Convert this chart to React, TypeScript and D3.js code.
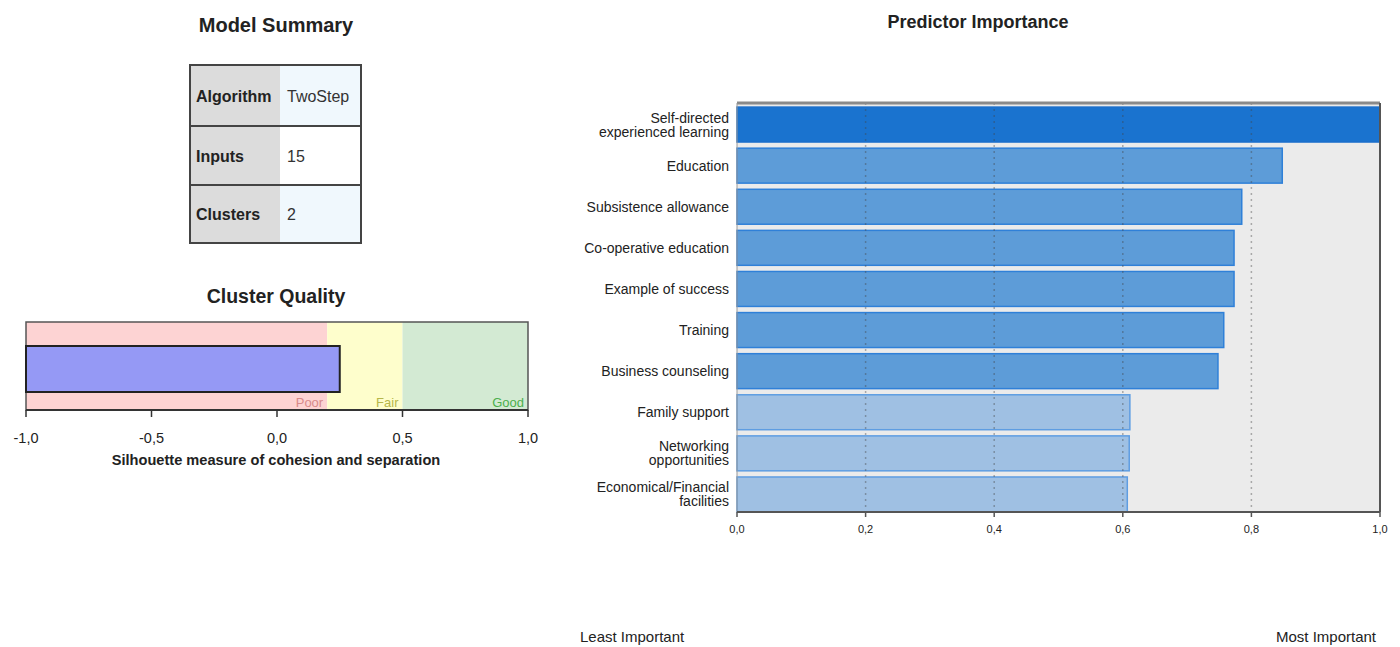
import React from "react";
import * as d3 from "d3";

const summaryLabels = ["Algorithm", "Inputs", "Clusters"];
const summaryValues = ["TwoStep", "15", "2"];

const qualityZones = ["Poor", "Fair", "Good"];
const zoneBounds = [-1.0, 0.2, 0.5, 1.0];
const silhouette = 0.25;
const qualityTicks = [-1.0, -0.5, 0.0, 0.5, 1.0];

const predictors = [
  "Self-directed\nexperienced learning",
  "Education",
  "Subsistence allowance",
  "Co-operative education",
  "Example of success",
  "Training",
  "Business counseling",
  "Family support",
  "Networking\nopportunities",
  "Economical/Financial\nfacilities",
];
const importance = [1.0, 0.848, 0.785, 0.773, 0.773, 0.757, 0.748, 0.611, 0.61, 0.607];
const importanceTicks = [0, 0.2, 0.4, 0.6, 0.8, 1.0];

const FONT = "'Liberation Sans', Arial, sans-serif";
const fmt = (v: number) => v.toFixed(1).replace(".", ",");

export default function App() {
  // Cluster quality scales
  const qx = d3.scaleLinear().domain([-1, 1]).range([26, 528]);
  const qTop = 322;
  const qBot = 410;
  const zoneFill = ["#fdd3d3", "#fefecc", "#d3ead3"];
  const zoneText = ["#d88a8a", "#b6b64a", "#4caf4c"];

  // Predictor importance scales
  const px = d3.scaleLinear().domain([0, 1]).range([737, 1380]);
  const py = d3.scaleBand<string>().domain(predictors).range([104, 515]).paddingInner(0.15).paddingOuter(0.075);
  const pTop = 103;
  const pBot = 512;
  const barFill = (i: number) => (i === 0 ? "#1a73cf" : i < 7 ? "#5d9cd8" : "#9fc0e3");
  const barStroke = (i: number) => (i === 0 ? "#1a6fcb" : i < 7 ? "#2f80d8" : "#5e9de2");

  const rowY = [65, 126, 185, 243];

  return (
    <div>
      <style>{"body{margin:0}"}</style>
      <svg width={1400} height={647} style={{ display: "block", fontFamily: FONT }}>
        <rect width={1400} height={647} fill="#ffffff" />

        {/* Model Summary */}
        <text x={276} y={32} textAnchor="middle" fontSize={20} fontWeight="bold" fill="#222">
          Model Summary
        </text>
        {summaryLabels.map((lab, i) => (
          <g key={lab}>
            <rect x={190} y={rowY[i]} width={90} height={rowY[i + 1] - rowY[i]} fill="#dcdcdc" />
            <rect x={280} y={rowY[i]} width={81} height={rowY[i + 1] - rowY[i]} fill={i === 1 ? "#ffffff" : "#f0f8fd"} />
            <text x={196} y={(rowY[i] + rowY[i + 1]) / 2 + 6} fontSize={16} fontWeight="bold" fill="#222">
              {lab}
            </text>
            <text x={287} y={(rowY[i] + rowY[i + 1]) / 2 + 6} fontSize={16} fill="#333">
              {summaryValues[i]}
            </text>
            <line x1={190} x2={361} y1={rowY[i]} y2={rowY[i]} stroke="#444" strokeWidth={2} />
          </g>
        ))}
        <rect x={190} y={65} width={171} height={178} fill="none" stroke="#444" strokeWidth={2} />

        {/* Cluster Quality */}
        <text x={276} y={303} textAnchor="middle" fontSize={19.5} fontWeight="bold" fill="#222">
          Cluster Quality
        </text>
        {qualityZones.map((z, i) => (
          <g key={z}>
            <rect
              x={qx(zoneBounds[i])}
              y={qTop}
              width={qx(zoneBounds[i + 1]) - qx(zoneBounds[i])}
              height={qBot - qTop}
              fill={zoneFill[i]}
            />
            <text x={qx(zoneBounds[i + 1]) - 4} y={qBot - 3} textAnchor="end" fontSize={13} fill={zoneText[i]}>
              {z}
            </text>
          </g>
        ))}
        <rect x={qx(-1)} y={qTop} width={qx(1) - qx(-1)} height={qBot - qTop} fill="none" stroke="#555" strokeWidth={1.5} />
        <rect
          x={qx(-1)}
          y={346}
          width={qx(silhouette) - qx(-1)}
          height={46}
          fill="#9599f5"
          stroke="#222"
          strokeWidth={2}
        />
        <line x1={qx(-1)} x2={qx(1)} y1={qBot} y2={qBot} stroke="#333" strokeWidth={2} />
        {qualityTicks.map((t) => (
          <g key={t}>
            <line x1={qx(t)} x2={qx(t)} y1={qBot} y2={qBot + 7} stroke="#333" strokeWidth={1.5} />
            <text x={qx(t)} y={qBot + 33} textAnchor="middle" fontSize={14.5} fill="#222">
              {fmt(t)}
            </text>
          </g>
        ))}
        <text x={276} y={465} textAnchor="middle" fontSize={14.6} fontWeight="bold" fill="#222">
          Silhouette measure of cohesion and separation
        </text>

        {/* Predictor Importance */}
        <text x={978} y={28} textAnchor="middle" fontSize={18} fontWeight="bold" fill="#222">
          Predictor Importance
        </text>
        <rect x={px(0)} y={pTop} width={px(1) - px(0)} height={pBot - pTop} fill="#ebebeb" />
        {predictors.map((p, i) => {
          const y0 = py(p)!;
          const bh = py.bandwidth();
          const lines = p.split("\n");
          const cy = y0 + bh / 2;
          return (
            <g key={p}>
              <rect
                x={px(0)}
                y={y0}
                width={px(importance[i]) - px(0)}
                height={bh}
                fill={barFill(i)}
                stroke={barStroke(i)}
                strokeWidth={1.5}
              />
              {lines.map((ln, j) => (
                <text
                  key={j}
                  x={729}
                  y={cy + 5 + (j - (lines.length - 1) / 2) * 14}
                  textAnchor="end"
                  fontSize={14}
                  fill="#222"
                >
                  {ln}
                </text>
              ))}
            </g>
          );
        })}
        {importanceTicks.slice(1, -1).map((t) => (
          <line
            key={t}
            x1={px(t)}
            x2={px(t)}
            y1={pTop}
            y2={pBot}
            stroke="#444"
            strokeOpacity={0.4}
            strokeDasharray="2,4"
            strokeWidth={1.5}
          />
        ))}
        <line x1={px(0)} x2={px(1)} y1={pTop} y2={pTop} stroke="#8a8a8a" strokeWidth={3} />
        <line x1={px(1)} x2={px(1)} y1={pTop} y2={pBot} stroke="#555" strokeWidth={2} />
        <line x1={px(0)} x2={px(0)} y1={pTop} y2={pBot} stroke="#999" strokeWidth={1} />
        <line x1={px(0)} x2={px(1)} y1={pBot} y2={pBot} stroke="#555" strokeWidth={2} />
        {importanceTicks.map((t) => (
          <g key={t}>
            <line x1={px(t)} x2={px(t)} y1={pBot} y2={pBot + 5} stroke="#555" strokeWidth={1.5} />
            <text x={px(t)} y={pBot + 21} textAnchor="middle" fontSize={11} fill="#222">
              {fmt(t)}
            </text>
          </g>
        ))}
        <text x={580} y={642} fontSize={15} fill="#222">
          Least Important
        </text>
        <text x={1376} y={642} textAnchor="end" fontSize={15} fill="#222">
          Most Important
        </text>
      </svg>
    </div>
  );
}
